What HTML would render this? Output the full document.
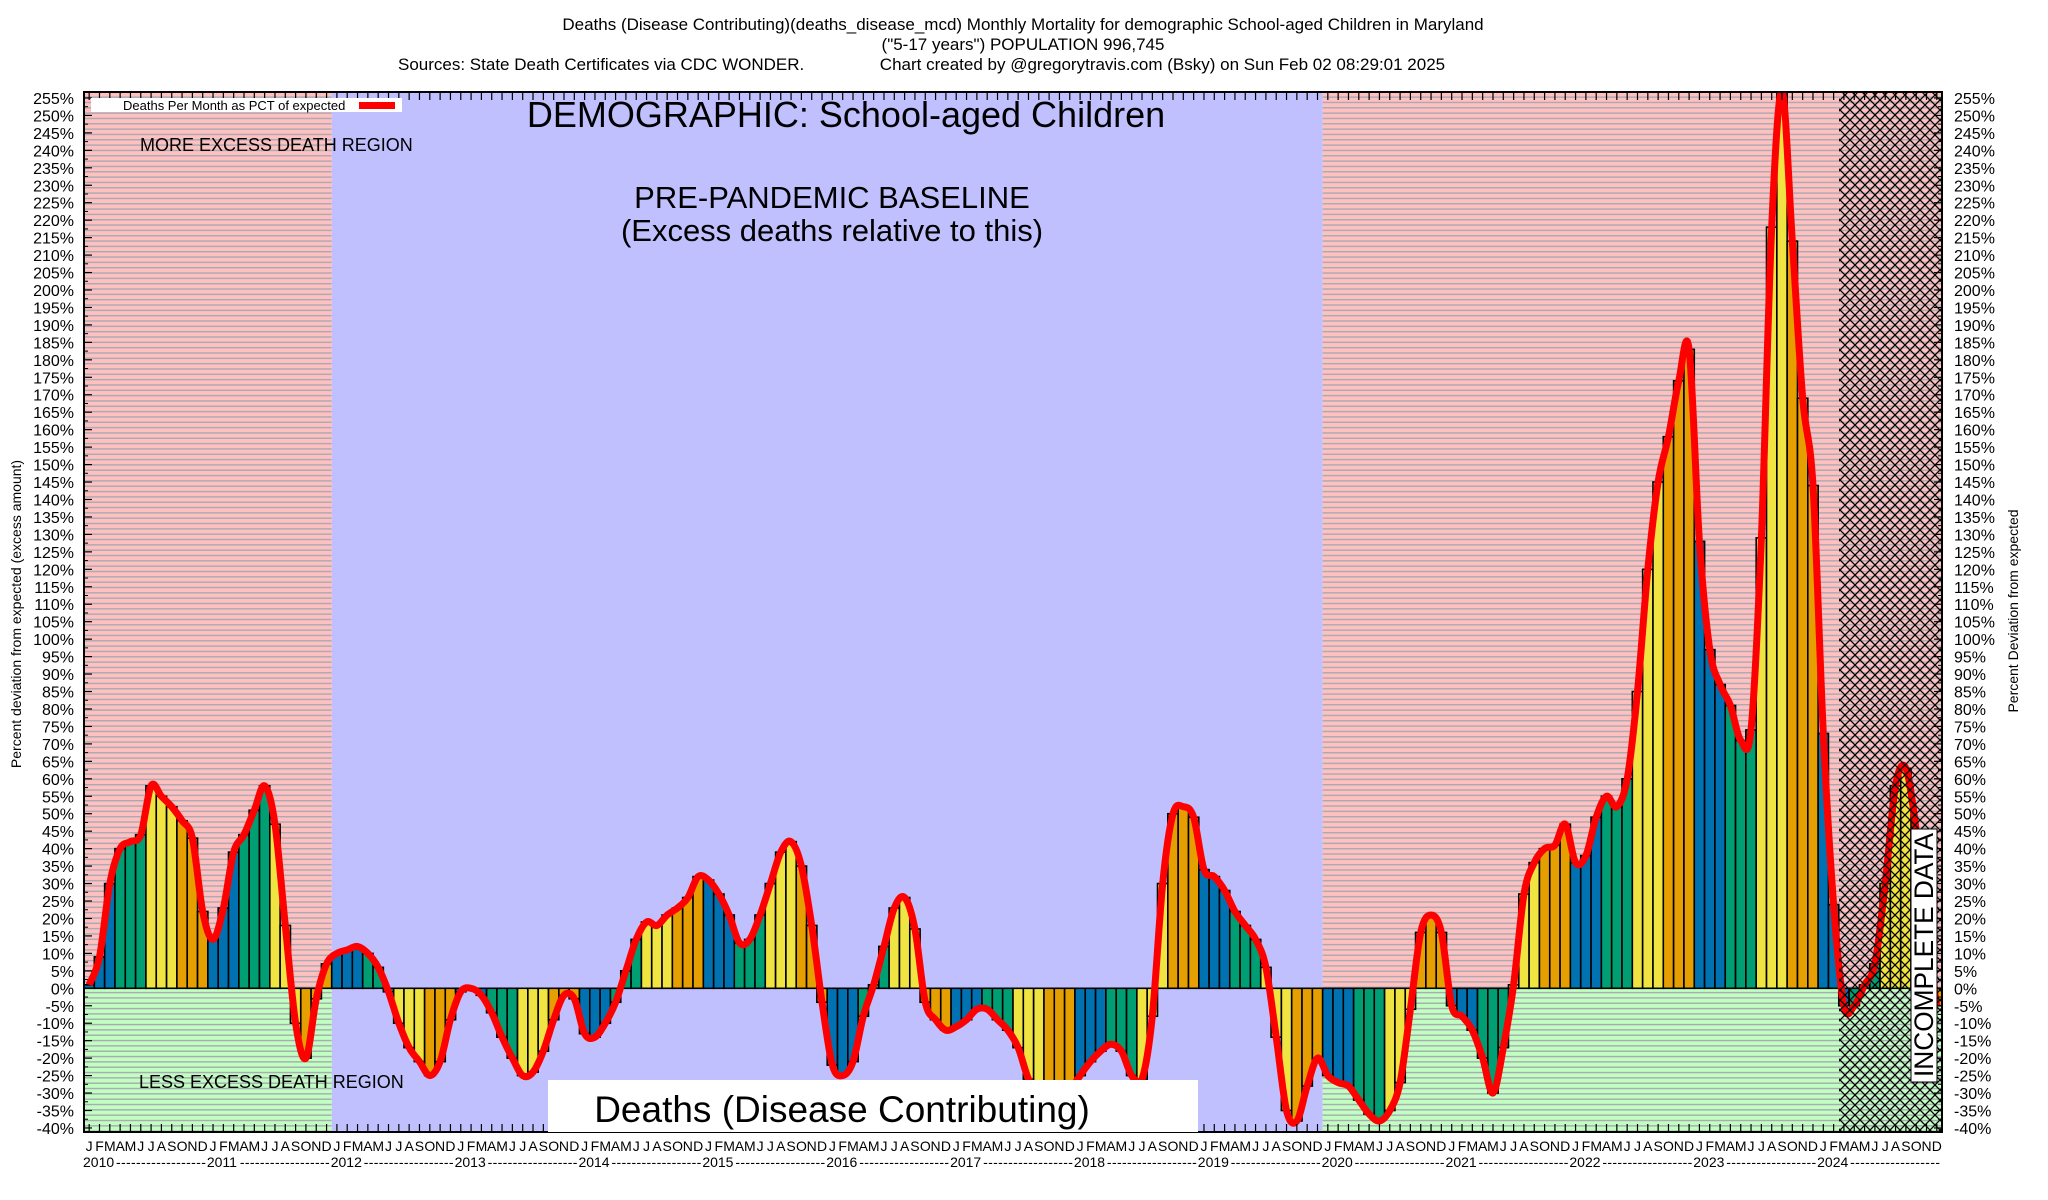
<!DOCTYPE html>
<html><head><meta charset="utf-8"><style>
html,body{margin:0;padding:0;background:#fff}
svg{display:block;font-family:"Liberation Sans",Arial,sans-serif}
</style></head><body>
<svg id="chart" width="2048" height="1200" viewBox="0 0 2048 1200" xmlns="http://www.w3.org/2000/svg">
<defs>
<pattern id="stripes" width="20" height="5.33" patternUnits="userSpaceOnUse" y="0.5">
<rect width="20" height="1.4" fill="#a9a9b4"/>
</pattern>
<pattern id="hatch" width="10" height="10" patternUnits="userSpaceOnUse">
<path d="M-2,2 L2,-2 M0,10 L10,0 M8,12 L12,8 M-2,8 L2,12 M0,0 L10,10 M8,-2 L12,2" stroke="#000" stroke-width="1.3" fill="none"/>
</pattern>
<clipPath id="plotclip"><rect x="84" y="92" width="1858" height="1040"/></clipPath>
</defs>
<g id="bg"></g>
<g id="bars" clip-path="url(#plotclip)"></g>
<g id="line" clip-path="url(#plotclip)"></g>
<rect x="1839" y="92" width="103" height="1040" fill="url(#hatch)"/>
<g id="axes"></g>

<text x="1023" y="30" font-size="17" text-anchor="middle">Deaths (Disease Contributing)(deaths_disease_mcd) Monthly Mortality for demographic School-aged Children in Maryland</text>
<text x="1023" y="50" font-size="17" text-anchor="middle">("5-17 years") POPULATION 996,745</text>
<text x="398" y="70" font-size="17" xml:space="preserve">Sources: State Death Certificates via CDC WONDER.                Chart created by @gregorytravis.com (Bsky) on Sun Feb 02 08:29:01 2025</text>

<g>
<rect x="91" y="98" width="311" height="14" fill="#fff"/>
<text x="123" y="110" font-size="13">Deaths Per Month as PCT of expected</text>
<rect x="359" y="102" width="36" height="7" fill="#ff0000"/>
</g>
<text x="846" y="127" font-size="36" text-anchor="middle">DEMOGRAPHIC: School-aged Children</text>
<text x="832" y="208" font-size="31" text-anchor="middle">PRE-PANDEMIC BASELINE</text>
<text x="832" y="241" font-size="31" text-anchor="middle">(Excess deaths relative to this)</text>
<text x="140" y="151" font-size="18">MORE EXCESS DEATH REGION</text>
<text x="139" y="1088" font-size="18">LESS EXCESS DEATH REGION</text>
<rect x="548" y="1080" width="650" height="52" fill="#fff"/>
<text x="842" y="1122" font-size="37" text-anchor="middle">Deaths (Disease Contributing)</text>
<g>
<rect x="1911" y="829" width="26" height="253" fill="#fff" stroke="#000" stroke-width="1"/>
<text transform="translate(1933,1077) rotate(-90)" font-size="27" textLength="244" lengthAdjust="spacingAndGlyphs">INCOMPLETE DATA</text>
</g>
<text transform="translate(21,614) rotate(-90)" font-size="14" text-anchor="middle">Percent deviation from expected (excess amount)</text>
<text transform="translate(2018,611) rotate(-90)" font-size="14" text-anchor="middle">Percent Deviation from expected</text>
</svg>
<script>
const years = [2010,2011,2012,2013,2014,2015,2016,2017,2018,2019,2020,2021,2022,2023,2024];
const monthLetters = ["J","F","M","A","M","J","J","A","S","O","N","D"];
const values2010 = [1,9,30,40,42,44,58,55,52,48,43,22];
const values2011 = [14,23,39,44,51,58,47,18,-10,-20,-3,7];
const values2012 = [10,11,12,10,6,-1,-10,-17,-21,-25,-21,-9];
const values2013 = [-1,0,-2,-7,-14,-20,-25,-24,-18,-9,-2,-3];
const values2014 = [-13,-14,-10,-4,5,14,19,18,21,23,26,32];
const values2015 = [31,27,21,13,14,21,30,39,42,35,18,-4];
const values2016 = [-22,-25,-21,-8,1,12,23,26,17,-4,-9,-12];
const values2017 = [-11,-9,-6,-6,-9,-12,-17,-26,-30,-38,-40,-30];
const values2018 = [-25,-21,-18,-16,-18,-25,-26,-8,30,50,52,49];
const values2019 = [34,32,28,22,18,14,6,-14,-35,-38,-28,-20];
const values2020 = [-25,-27,-28,-32,-36,-38,-35,-27,-6,16,21,16];
const values2021 = [-5,-8,-12,-20,-30,-17,1,27,36,40,41,47];
const values2022 = [36,38,49,55,52,60,85,120,145,158,174,183];
const values2023 = [128,97,87,81,71,74,129,218,257,214,169,144];
const values2024 = [73,24,-5,-5,1,7,30,58,63,45,15,-5];
const yTickValues = [];
for (let v=-40; v<=255; v+=5) yTickValues.push(v);

const values = [].concat(values2010,values2011,values2012,values2013,values2014,values2015,values2016,values2017,values2018,values2019,values2020,values2021,values2022,values2023,values2024);
const NS="http://www.w3.org/2000/svg";
const X0=84, X1=1942, Y0=92, Y1=1132;
const mw=(X1-X0)/values.length;
function xScale(m){return X0+m*mw;}
function yScale(v){return 988.3 - v*3.4915;}
function mk(tag,attrs,parent){const e=document.createElementNS(NS,tag);for(const k in attrs)e.setAttribute(k,attrs[k]);parent.appendChild(e);return e;}

const bg=document.getElementById('bg');
const zy=yScale(0);
function region(x0,x1,type,name){
  if(type==='blue'){
    const r=mk('rect',{x:x0,y:Y0,width:x1-x0,height:Y1-Y0,fill:'#c0c0ff'},bg);
    
    
  } else {
    const a=mk('rect',{x:x0,y:Y0,width:x1-x0,height:zy-Y0,fill:'#ffc0c0'},bg);
    
    
    const b=mk('rect',{x:x0,y:zy,width:x1-x0,height:Y1-zy,fill:'#c0ffc0'},bg);
    
    
    const s=mk('rect',{x:x0,y:Y0,width:x1-x0,height:Y1-Y0,fill:'url(#stripes)'},bg);
    
    
  }
}
region(xScale(0),xScale(24),'pink','region-2010-2011');
region(xScale(24),xScale(120),'blue','region-baseline');
region(xScale(120),X1,'pink','region-2020-2024');

const colors=['#0072b2','#009e73','#f0e442','#e69f00'];
const barsG=document.getElementById('bars');
values.forEach((v,m)=>{
  const x=xScale(m), y=yScale(Math.max(v,0)), h=Math.abs(yScale(v)-yScale(0));
  const r=mk('rect',{x:x,y:y,width:mw,height:Math.max(h,0.5),fill:colors[Math.floor((m%12)/3)],stroke:'#000','stroke-width':1.6},barsG);
  
  
});
const zl=mk('line',{x1:X0,x2:X1,y1:zy,y2:zy,stroke:'#000','stroke-width':1.5},barsG);



const pts=values.map((v,m)=>[xScale(m)+mw/2,yScale(v)]);
let d='M'+pts[0][0]+','+pts[0][1];
for(let i=0;i<pts.length-1;i++){
  const p0=pts[Math.max(i-1,0)],p1=pts[i],p2=pts[i+1],p3=pts[Math.min(i+2,pts.length-1)];
  const c1=[p1[0]+(p2[0]-p0[0])/6,p1[1]+(p2[1]-p0[1])/6];
  const c2=[p2[0]-(p3[0]-p1[0])/6,p2[1]-(p3[1]-p1[1])/6];
  d+=' C'+c1[0].toFixed(1)+','+c1[1].toFixed(1)+' '+c2[0].toFixed(1)+','+c2[1].toFixed(1)+' '+p2[0].toFixed(1)+','+p2[1].toFixed(1);
}
const lp=mk('path',{d:d,fill:'none',stroke:'#ff0000','stroke-width':7,'stroke-linejoin':'round'},document.getElementById('line'));



const ax=document.getElementById('axes');
const frame=mk('rect',{x:X0,y:Y0,width:X1-X0,height:Y1-Y0,fill:'none',stroke:'#000','stroke-width':2},ax);


yTickValues.forEach(v=>{
  const y=yScale(v);
  mk('line',{x1:X0,x2:X0+8,y1:y,y2:y,stroke:'#000','stroke-width':1.2},ax);
  mk('line',{x1:X1-8,x2:X1,y1:y,y2:y,stroke:'#000','stroke-width':1.2},ax);
  const ym=yScale(v+2.5);
  if(v<255){mk('line',{x1:X0,x2:X0+4,y1:ym,y2:ym,stroke:'#000','stroke-width':1},ax);
  mk('line',{x1:X1-4,x2:X1,y1:ym,y2:ym,stroke:'#000','stroke-width':1},ax);}
  const tl=mk('text',{x:X0-10,y:y+6,'font-size':16,'text-anchor':'end'},ax);
  tl.textContent=v+'%';
  
  
  const tr=mk('text',{x:X1+12,y:y+6,'font-size':16,'text-anchor':'start'},ax);
  tr.textContent=v+'%';
  
  
});
values.forEach((v,m)=>{
  const x=xScale(m)+mw/2;
  mk('line',{x1:x,x2:x,y1:Y1,y2:Y1-8,stroke:'#000','stroke-width':1.2},ax);
  mk('line',{x1:x,x2:x,y1:Y0,y2:Y0+8,stroke:'#000','stroke-width':1.2},ax);
  const t=mk('text',{x:x,y:1151,'font-size':14,'text-anchor':'middle'},ax);
  t.textContent=monthLetters[m%12];
  
  
});
years.forEach((yr,i)=>{
  const x=xScale(i*12);
  const t=mk('text',{x:x-1,y:1167,'font-size':14},ax);
  t.textContent=yr;
  
  
  const dsh=mk('text',{x:x+32,y:1167,'font-size':14,textLength:12*mw-34,lengthAdjust:'spacing'},ax);
  dsh.textContent='- - - - - - - - - - - - - - - - - -';
  
  
});
</script>
</body></html>
